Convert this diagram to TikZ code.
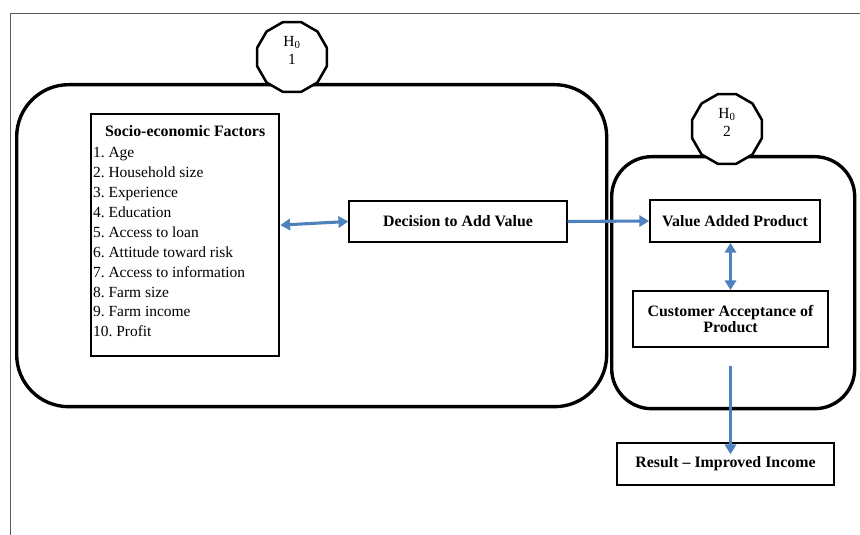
\documentclass[tikz,border=0pt]{standalone}
\usepackage{fontspec}
\setmainfont{Liberation Serif}
\usetikzlibrary{shapes.geometric, arrows.meta, positioning, calc}
\definecolor{linkblue}{RGB}{79,129,189}

\begin{document}
\begin{tikzpicture}[
        font=\fontsize{11}{14.2}\selectfont\frenchspacing,
        >={Triangle[length=7pt, width=8pt]},
        group/.style={draw, line width=2.4pt, rounded corners=1.3cm},
        hyp/.style={draw, fill=white, line width=1.8pt, regular polygon, regular polygon sides=12,
            minimum size=1.8cm, inner sep=0pt, align=center, font=\fontsize{11}{13}\selectfont},
        box/.style={draw, line width=1.2pt, align=center, inner sep=2pt, font=\fontsize{11.3}{12}\selectfont\bfseries},
        link/.style={draw=linkblue, line width=2.2pt}
    ]
        \useasboundingbox (0,0) rectangle (21.5,-13.375);
        \draw[gray!70!black, line width=0.6pt] (0.25,-13.375) -- (0.25,-0.325) -- (21.5,-0.325);

        % the two groups and their hypotheses
        \node[group, minimum width=14.75cm, minimum height=8.05cm, anchor=north west] (left) at (0.375,-2.075) {};
        \node[group, rounded corners=1cm, minimum width=6.075cm, minimum height=6.3cm, anchor=north west] (right) at (15.25,-3.875) {};
        \node[hyp] (h1) at (7.3,-1.425) {H\textsubscript{0}\\1\\[-4pt]};
        \node[hyp] (h2) at (18.175,-3.225) {H\textsubscript{0}\\2\\[-4pt]};

        % factors
        \node[draw, line width=1.6pt, minimum width=4.7cm, minimum height=6.05cm, anchor=north west] (socio) at (2.25,-2.825) {};
        \node[below=0.2cm of socio.north, font=\fontsize{11.3}{14.2}\selectfont\bfseries] (title) {Socio-economic Factors};
        \node[anchor=north west, align=left, inner xsep=2pt] (list) at (socio.west |- title.south)
            {1. Age\\ 2. Household size\\ 3. Experience\\ 4. Education\\ 5. Access to loan\\
             6. Attitude toward risk\\ 7. Access to information\\ 8. Farm size\\ 9. Farm income\\ 10. Profit};

        \node[box, line width=1pt, minimum width=5.45cm, minimum height=1.025cm] (decision) at (11.45,-5.5375) {Decision to Add Value};
        \node[box, minimum width=4.25cm, minimum height=1.05cm] (value) at (18.375,-5.525) {Value Added Product};
        \node[box, minimum width=4.875cm, minimum height=1.4cm] (accept) at (18.2625,-7.975) {Customer Acceptance of\\Product};
        \node[box, line width=1pt, minimum width=5.425cm, minimum height=1.05cm] (result) at (18.1375,-11.6) {Result -- Improved Income};

        \draw[link, <->] ([yshift=0.25cm]socio.east) -- (decision.west);
        \draw[link, ->] (decision.east) -- (value.west);
        \draw[link, <->] (accept.north) -- (accept.north |- value.south);
        \coordinate[below=0.45cm of accept.south] (out);
        \draw[link, ->] (out) -- ([yshift=-0.3cm]out |- result.north);
    \end{tikzpicture}
\end{document}
